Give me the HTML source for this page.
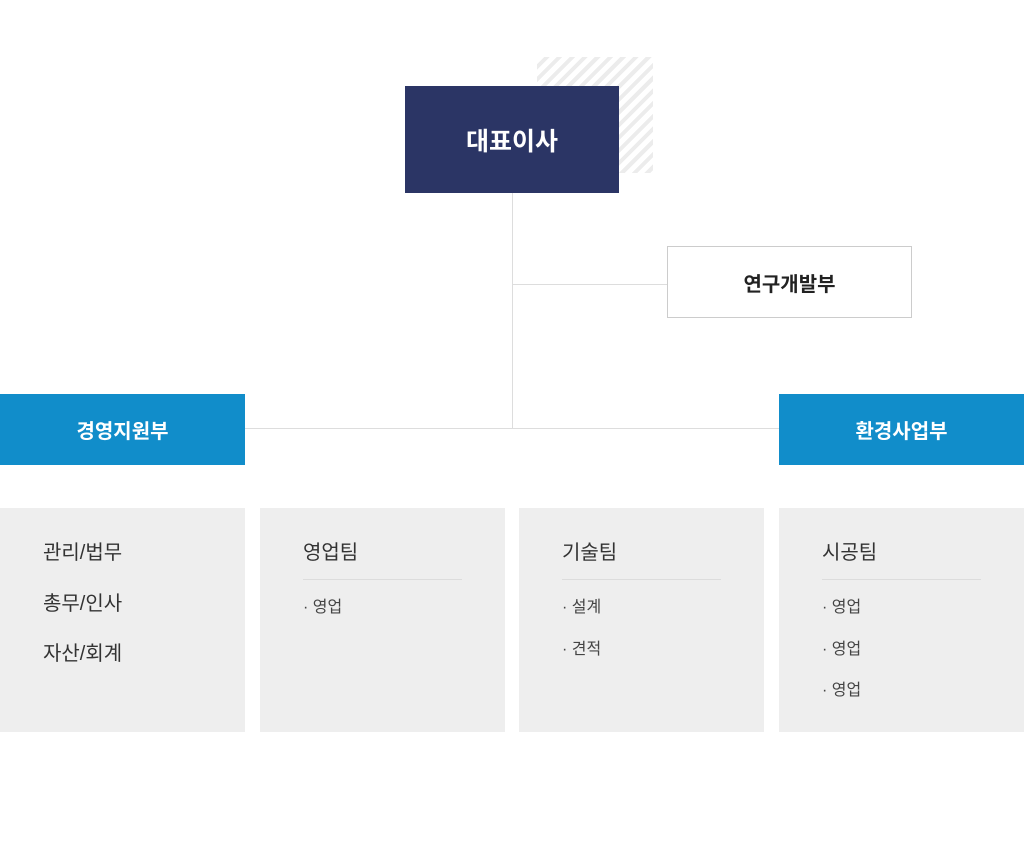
<!DOCTYPE html><html><head><meta charset="utf-8"><style>
body{margin:0;width:1024px;height:862px;background:#fff;position:relative;font-family:"Liberation Sans","Noto Sans CJK KR",sans-serif;overflow:hidden}
div{position:absolute;box-sizing:border-box}
.c{display:flex;align-items:center;justify-content:center}
.blue{background:#118dca;color:#fff;font-size:20px;font-weight:bold;width:245px;height:71px;top:394px}
.g{background:#eeeeee;top:508px;width:245px;height:224px}
.t{font-size:20px;color:#333;left:43px;line-height:24px}
.sep{left:43px;top:71px;width:159px;height:1px;background:#dcdcdc}
.i{font-size:16px;color:#444;left:43px;line-height:20px}
.l{background:#ddd}
</style></head><body>
<div style="left:537px;top:57px;width:116px;height:116px;background:repeating-linear-gradient(135deg,#fff 0 5px,#ececec 5px 9px)"></div>
<div class="c" style="left:405px;top:86px;width:214px;height:107px;background:#2b3565;color:#fff;font-size:25px;font-weight:bold">대표이사</div>
<div class="l" style="left:512px;top:193px;width:1px;height:235px"></div>
<div class="l" style="left:512px;top:284px;width:155px;height:1px"></div>
<div class="l" style="left:245px;top:428px;width:534px;height:1px"></div>
<div class="c" style="left:667px;top:246px;width:245px;height:72px;border:1px solid #ccc;background:#fff;font-size:20px;font-weight:bold;color:#222">연구개발부</div>
<div class="c blue" style="left:0">경영지원부</div>
<div class="c blue" style="left:779px">환경사업부</div>
<div class="g" style="left:0"><div class="t" style="top:33px">관리/법무</div><div class="t" style="top:84px">총무/인사</div><div class="t" style="top:134px">자산/회계</div></div>
<div class="g" style="left:260px"><div class="t" style="top:33px">영업팀</div><div class="sep"></div><div class="i" style="top:90px">· 영업</div></div>
<div class="g" style="left:519px"><div class="t" style="top:33px">기술팀</div><div class="sep"></div><div class="i" style="top:90px">· 설계</div><div class="i" style="top:132px">· 견적</div></div>
<div class="g" style="left:779px"><div class="t" style="top:33px">시공팀</div><div class="sep"></div><div class="i" style="top:90px">· 영업</div><div class="i" style="top:132px">· 영업</div><div class="i" style="top:173px">· 영업</div></div>
</body></html>
